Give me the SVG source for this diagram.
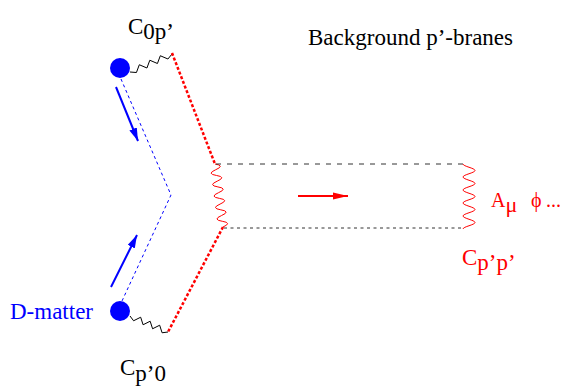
<svg xmlns="http://www.w3.org/2000/svg" width="564" height="387" viewBox="0 0 564 387">
<defs>
<style>
text{font-family:"Liberation Serif","Times New Roman",serif;font-size:23px;}
.blk{fill:#000;}
.blue{fill:#0000ff;}
.red{fill:#ff0000;}
.zig{fill:none;stroke:#000;stroke-width:1;}
.wave{fill:none;stroke:#ff0000;stroke-width:1;}
.brane{fill:none;stroke:#ff0000;stroke-width:2.5;stroke-dasharray:3 2;}
.path{fill:none;stroke:#0000ff;stroke-width:1;stroke-dasharray:3 3;}
.dashA{fill:none;stroke:#333;stroke-width:1;stroke-dasharray:5 6;}
.dashB{fill:none;stroke:#333;stroke-width:1;stroke-dasharray:3 3.5;}
.barrow{fill:none;stroke:#0000ff;stroke-width:2;}
.rarrow{fill:none;stroke:#ff0000;stroke-width:2;}
</style>
<marker id="hb" markerUnits="userSpaceOnUse" markerWidth="16" markerHeight="10" refX="13" refY="4" orient="auto">
<path d="M0,0 L13,4 L0,8 Z" fill="#0000ff"/>
</marker>
<marker id="hr" markerUnits="userSpaceOnUse" markerWidth="16" markerHeight="10" refX="15" refY="4" orient="auto">
<path d="M0,0.5 L15,4 L0,7.5 Z" fill="#ff0000"/>
</marker>
</defs>
<g id="connectors">
<polyline class="zig" points="130,72 136.43,72.51 139.32,64.74 146.93,68.01 149.82,60.24 157.43,63.51 160.32,55.74 167.93,59.01 172,54"/>
<polyline class="zig" points="130,316 133.59,320.77 140.66,317.23 143.09,324.77 150.16,321.23 152.59,328.77 159.66,325.23 162.09,332.77 168,332"/>
<line class="brane" x1="172" y1="53" x2="215" y2="164"/>
<line class="brane" x1="223" y1="227" x2="168" y2="332"/>
<path class="wave" d="M215,164 Q225.28,165.6 215.727,169.727 T216.455,175.455 T217.182,181.182 T217.909,186.909 T218.636,192.636 T219.364,198.364 T220.091,204.091 T220.818,209.818 T221.545,215.545 T222.273,221.273 T223,227"/>
<line class="dashA" x1="216" y1="164" x2="463" y2="164"/>
<line class="dashB" x1="224" y1="228" x2="463" y2="228"/>
<path class="wave" d="M463,164 C463,166.37 475,168.13 475,170.5 S463,174.63 463,177 S475,181.13 475,183.5 S463,187.63 463,190 S475,194.13 475,196.5 S463,200.63 463,203 S475,207.13 475,209.5 S463,213.63 463,216 S475,220.13 475,222.5 S463,226.63 463,229"/>
<polyline class="path" points="121,79 171,195 122,301"/>
<line class="barrow" x1="116" y1="87" x2="138" y2="141" marker-end="url(#hb)"/>
<line class="barrow" x1="111" y1="287" x2="137" y2="235" marker-end="url(#hb)"/>
<line class="rarrow" x1="298" y1="196" x2="348" y2="196" marker-end="url(#hr)"/>
</g>
<g id="d-matter-top">
<circle class="blue" cx="120" cy="68" r="10"/>
<text class="blk" x="128" y="34">C<tspan dy="5">0p’</tspan></text>
</g>
<g id="d-matter-bottom">
<circle class="blue" cx="120" cy="311" r="10"/>
<text class="blue" x="10" y="319">D-matter</text>
<text class="blk" x="120" y="375">C<tspan dy="6">p’0</tspan></text>
</g>
<g id="background-branes">
<text class="blk" x="308" y="45">Background p’-branes</text>
<text class="red" x="491" y="207" style="font-size:20px">A<tspan dy="5" style="font-size:22px">μ</tspan><tspan x="531" dy="-5">ϕ</tspan><tspan x="546">...</tspan></text>
<text class="red" x="462" y="265">C<tspan dy="5">p’p’</tspan></text>
</g>
</svg>
